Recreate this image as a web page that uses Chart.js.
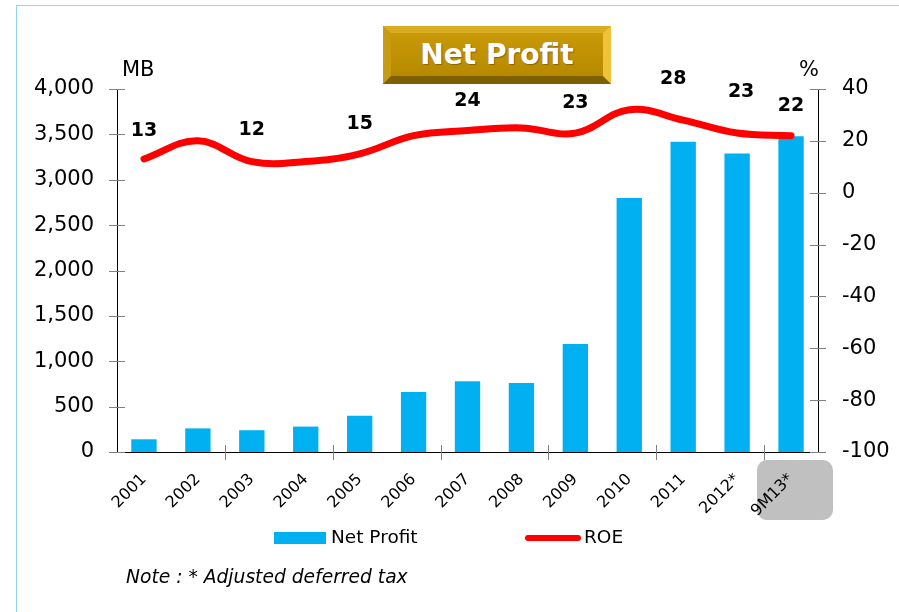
<!DOCTYPE html>
<html>
<head>
<meta charset="utf-8">
<script src="https://cdn.jsdelivr.net/npm/chart.js@4"></script>
<style>
  html, body { margin: 0; padding: 0; background: #ffffff; }
  body { width: 899px; height: 612px; position: relative; overflow: hidden; font-family: "DejaVu Sans", sans-serif; }
  .frame { position: absolute; left: 16px; top: 5px; right: -2px; bottom: -2px; border-left: 1px solid #8fd6f2; border-top: 1px solid #8fd6f2; }
  .tagBox { position: absolute; left: 757px; top: 460px; width: 76px; height: 60px; border-radius: 10px; background: #c0c0c0; }
  #plot { position: absolute; left: 0; top: 0; }
  .title {
    position: absolute; left: 383px; top: 26px; width: 212px; height: 43px;
    border-style: solid; border-width: 7px 8px 8px 8px;
    border-color: #d9ad22 #efc238 #7e6000 #c89c12;
    background: linear-gradient(#c89a08, #b78900);
    color: #ffffff; font-weight: bold; font-size: 28px; line-height: 43px; text-align: center;
    text-shadow: 1px 1px 1px rgba(90, 60, 0, 0.5);
  }
  .axisName { position: absolute; font-size: 21px; color: #000; }
  .legend { position: absolute; top: 525px; font-size: 18.5px; color: #000; height: 24px; line-height: 24px; }
  .legend .swatch { display: inline-block; vertical-align: middle; }
  .note { position: absolute; left: 126px; top: 566px; font-size: 18.7px; font-style: italic; color: #000; }
</style>
</head>
<body>
<div class="frame"></div>
<div class="tagBox"></div>
<canvas id="plot" width="899" height="612"></canvas>
<div class="title">Net Profit</div>
<div class="axisName" style="left:122px; top:57px;">MB</div>
<div class="axisName" style="left:799px; top:57px;">%</div>
<div class="legend" style="left:274px;"><span class="swatch" style="width:52px;height:12px;margin-right:5px;background:#00b0f0;"></span>Net Profit</div>
<div class="legend" style="left:525px;"><span class="swatch" style="width:56px;height:6px;margin-right:3px;border-radius:3px;background:#ff0000;"></span>ROE</div>
<div class="note">Note : * Adjusted deferred tax</div>

<script>
// years on the x axis
var years = ["2001", "2002", "2003", "2004", "2005", "2006", "2007",
             "2008", "2009", "2010", "2011", "2012*", "9M13*"];
// net profit, million baht
var netProfit = [140, 260, 240, 280, 400, 660, 780, 760, 1190, 2800, 3420, 3290, 3480];
// return on equity, %
var roe = [13, 20, 12, 12, 15, 22, 24, 25, 23, 32, 28, 23, 22];
// which ROE points get a number written above them
var roeShown = [true, false, true, false, true, false, true, false, true, false, true, true, true];
// axis ranges
var profitTicks = { min: 0, max: 4000, step: 500 };
var roeTicks = { min: -100, max: 40, step: 20 };

var tickFont = { family: "DejaVu Sans", size: 21 };

// short tick marks that cross the axis lines
var crossTicks = {
  id: "crossTicks",
  afterDraw: function (chart) {
    var ctx = chart.ctx;
    var area = chart.chartArea;
    ctx.save();
    ctx.strokeStyle = "#808080";
    ctx.lineWidth = 1;
    ctx.beginPath();
    var y = chart.scales.y;
    y.ticks.forEach(function (t, i) {
      var py = Math.round(y.getPixelForTick(i)) + 0.5;
      ctx.moveTo(area.left - 8, py);
      ctx.lineTo(area.left + 8, py);
    });
    var y1 = chart.scales.y1;
    y1.ticks.forEach(function (t, i) {
      var py = Math.round(y1.getPixelForTick(i)) + 0.5;
      ctx.moveTo(area.right - 8, py);
      ctx.lineTo(area.right + 8, py);
    });
    var n = years.length;
    var w = (area.right - area.left) / n;
    for (var b = 2; b < n; b += 2) {
      var px = Math.round(area.left + b * w) + 0.5;
      ctx.moveTo(px, area.bottom - 7);
      ctx.lineTo(px, area.bottom + 8);
    }
    ctx.stroke();
    ctx.restore();
  }
};

// ROE numbers above the line
var roeLabels = {
  id: "roeLabels",
  afterDatasetsDraw: function (chart, args, opts) {
    var ctx = chart.ctx;
    var meta = chart.getDatasetMeta(1);
    ctx.save();
    ctx.font = "bold 19px 'DejaVu Sans'";
    ctx.fillStyle = "#000";
    ctx.textAlign = "center";
    ctx.textBaseline = "middle";
    meta.data.forEach(function (pt, i) {
      if (!roeShown[i]) return;
      ctx.fillText(String(roe[i]), pt.x + opts.dx[i], pt.y - opts.lift[i]);
    });
    ctx.restore();
  }
};

new Chart(document.getElementById("plot"), {
  type: "bar",
  data: {
    labels: years,
    datasets: [{
      label: "Net Profit",
      data: netProfit,
      backgroundColor: "#00b0f0",
      categoryPercentage: 1,
      barPercentage: 0.47,
      yAxisID: "y",
      order: 2
    }, {
      type: "line",
      label: "ROE",
      data: roe,
      borderColor: "#ff0000",
      borderWidth: 7,
      borderCapStyle: "round",
      pointRadius: 0,
      tension: 0.4,
      yAxisID: "y1",
      order: 1
    }]
  },
  options: {
    responsive: false,
    animation: false,
    layout: { padding: { top: 89, left: 0, right: 0, bottom: 0 } },
    plugins: {
      legend: { display: false },
      tooltip: { enabled: false },
      roeLabels: {
        lift: [28, 0, 32, 0, 30, 0, 29, 0, 30, 0, 41, 41, 30],
        dx: [0, 0, 0, 0, 0, 0, 0, 0, 0, 0, -10, 4, 0]
      }
    },
    scales: {
      x: {
        grid: { display: false },
        border: { display: true, color: "#000", width: 1 },
        ticks: {
          color: "#000",
          font: { family: "DejaVu Sans", size: 16 },
          minRotation: 45,
          maxRotation: 45,
          autoSkip: false,
          padding: 10
        },
        afterFit: function (s) { s.height = 160; }
      },
      y: {
        position: "left",
        min: profitTicks.min,
        max: profitTicks.max,
        grid: { display: false },
        border: { display: true, color: "#000", width: 1 },
        ticks: {
          stepSize: profitTicks.step,
          color: "#000",
          font: tickFont,
          padding: 15,
          callback: function (v) { return v.toLocaleString("en-US"); }
        },
        afterFit: function (s) { s.width = 117; }
      },
      y1: {
        position: "right",
        min: roeTicks.min,
        max: roeTicks.max,
        grid: { display: false },
        border: { display: true, color: "#000", width: 1 },
        ticks: {
          stepSize: roeTicks.step,
          color: "#000",
          font: tickFont,
          padding: 16
        },
        afterFit: function (s) { s.width = 81; }
      }
    }
  },
  plugins: [crossTicks, roeLabels]
});
</script>
</body>
</html>
